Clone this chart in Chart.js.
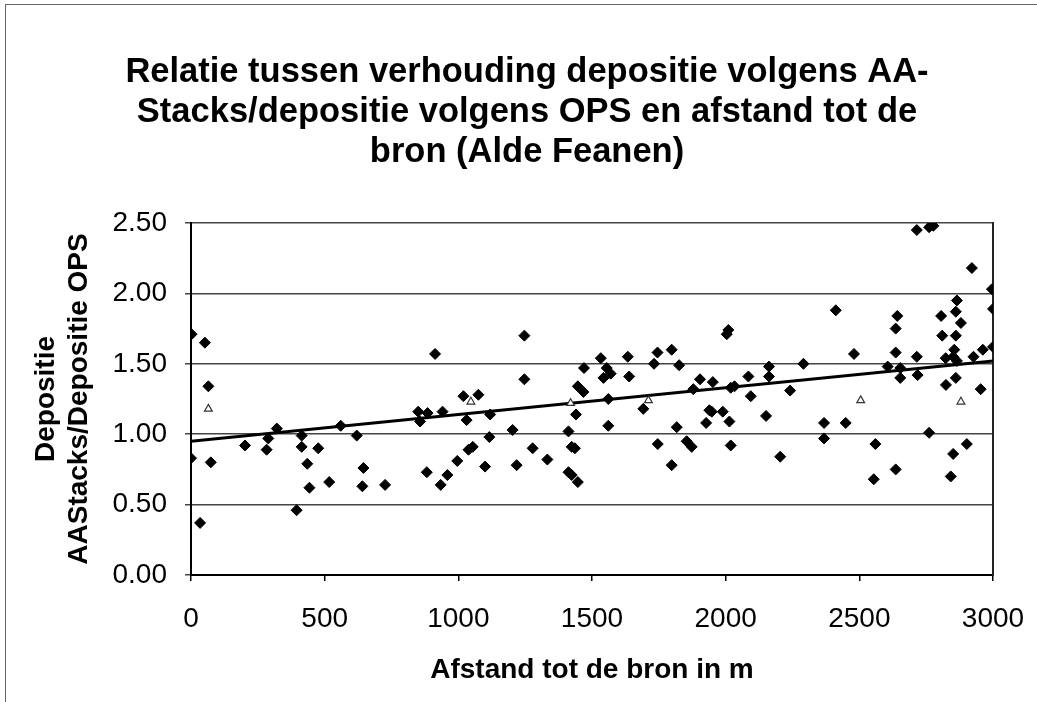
<!DOCTYPE html>
<html>
<head>
<meta charset="utf-8">
<script src="https://cdn.jsdelivr.net/npm/chart.js@4/dist/chart.umd.min.js"></script>
<style>
  html, body { margin: 0; padding: 0; background: #fff; }
  #wrap { position: relative; width: 1037px; height: 702px; }
  #frame { position: absolute; left: 5px; top: 4px; right: -2px; bottom: -2px;
           border-left: 1.5px solid #666; border-top: 1.5px solid #666; pointer-events: none; }
  canvas { position: absolute; left: 0; top: 0; }
</style>
</head>
<body>
<div id="wrap">
  <canvas id="c" width="1037" height="702"></canvas>
  <div id="frame"></div>
</div>
<script>
// Distance to source (m) and ratio AA-Stacks / OPS deposition
const distances = [
  2, 52, 65, 0, 74, 34, 202, 283, 289, 321, 414, 414, 435, 443, 476, 395, 517, 560, 620, 645,
  641, 726, 850, 857, 885, 941, 913, 882, 934, 959,
  996, 1019, 1075, 1031, 1119, 1038, 1054, 1100, 1116, 1203, 1218, 1247, 1247, 1278, 1333, 1440,
  1412, 1424, 1436, 1412, 1424, 1447, 1470, 1447, 1468, 1533, 1555, 1570, 1543, 1561, 1561, 1634,
  1639, 1692, 1732, 1745, 1798, 1826, 1746, 1817, 1798, 1854, 1873, 1904, 1879, 1927, 1939,
  1952, 1948, 1989, 2014, 2004, 2010, 2019, 2033, 2019, 2085, 2094, 2151, 2162, 2162, 2204, 2241,
  2291, 2412, 2368, 2368, 2449, 2480, 2560, 2554, 2606, 2636, 2636, 2636, 2642, 2653, 2653, 2715,
  2718, 2761, 2715, 2761, 2777, 2806, 2810, 2823, 2824, 2851, 2842, 2861, 2861, 2865, 2880, 2855,
  2851, 2865, 2861, 2902, 2927, 2921, 2962, 2954, 2996, 3000, 3000
];
const ratios = [
  1.71, 1.65, 1.34, 0.83, 0.80, 0.37, 0.92, 0.89, 0.97, 1.04, 0.99, 0.91, 0.79, 0.62, 0.90, 0.46, 0.66, 1.06, 0.99, 0.76,
  0.63, 0.64, 1.16, 1.09, 1.15, 1.16, 1.57, 0.73, 0.64, 0.71,
  0.81, 1.27, 1.28, 1.10, 1.14, 0.89, 0.91, 0.77, 0.98, 1.03, 0.78, 1.70, 1.39, 0.90, 0.82, 1.14,
  1.02, 0.91, 0.90, 0.73, 0.71, 0.66, 1.47, 1.34, 1.30, 1.54, 1.47, 1.43, 1.40, 1.25, 1.06, 1.55,
  1.41, 1.18, 1.50, 1.58, 1.60, 1.49, 0.93, 1.05, 0.78, 0.95, 0.91, 1.39, 1.32, 1.08, 1.17,
  1.37, 1.16, 1.16, 1.09, 1.71, 1.74, 1.33, 1.34, 0.92, 1.41, 1.27, 1.13, 1.48, 1.41, 0.84, 1.31,
  1.50, 1.88, 1.08, 0.97, 1.08, 1.57, 0.93, 0.68, 1.48, 0.75, 1.58, 1.75, 1.84, 1.47, 1.40, 1.55,
  1.42, 1.01, 2.45, 2.47, 2.48, 1.84, 1.70, 1.54, 1.35, 0.86, 0.70, 1.70, 1.87, 1.95, 1.79, 1.60,
  1.55, 1.52, 1.40, 0.93, 1.55, 2.18, 1.60, 1.32, 2.03, 1.89, 1.62
];
// faint open-triangle marks
const triDistances = [65, 1047, 1420, 1711, 2505, 2880];
const triRatios = [1.18, 1.23, 1.22, 1.24, 1.24, 1.23];
// linear trend line end points
const trendDistances = [0, 3000];
const trendRatios = [0.95, 1.52];

const xTicks = [0, 500, 1000, 1500, 2000, 2500, 3000];
const yTicks = [0, 0.5, 1.0, 1.5, 2.0, 2.5];

const titleLines = [
  'Relatie tussen verhouding depositie volgens AA-',
  'Stacks/depositie volgens OPS en afstand tot de',
  'bron (Alde Feanen)'
];
const yTitleLines = ['Depositie', 'AAStacks/Depositie OPS'];
const xTitle = 'Afstand tot de bron in m';

const FONT = "'Liberation Sans', Arial, sans-serif";

const mainPts = distances.map((d, i) => ({x: d, y: ratios[i]}));
const triPts = triDistances.map((d, i) => ({x: d, y: triRatios[i]}));
const trendPts = trendDistances.map((d, i) => ({x: d, y: trendRatios[i]}));

new Chart(document.getElementById('c'), {
  type: 'scatter',
  data: {
    datasets: [
      {
        type: 'line',
        data: trendPts,
        borderColor: '#000',
        borderWidth: 3,
        pointRadius: 0,
        fill: false,
        order: 2
      },
      {
        data: triPts,
        pointStyle: 'triangle',
        pointRadius: 4.5,
        backgroundColor: '#fff',
        borderColor: '#333',
        borderWidth: 1.2,
        order: 1
      },
      {
        data: mainPts,
        pointStyle: 'rectRot',
        pointRadius: 5.5,
        backgroundColor: '#000',
        borderColor: '#000',
        borderWidth: 1,
        order: 0
      }
    ]
  },
  options: {
    responsive: false,
    animation: false,
    devicePixelRatio: 1,
    layout: { padding: { left: 27, right: 10, top: 0, bottom: 0 } },
    plugins: {
      legend: { display: false },
      tooltip: { enabled: false },
      title: {
        display: true,
        text: titleLines,
        color: '#000',
        font: { family: FONT, size: 34.5, weight: 'bold', lineHeight: 40 / 34.5 },
        padding: { top: 52, bottom: 51 }
      }
    },
    scales: {
      x: {
        type: 'linear',
        min: 0, max: 3000,
        afterBuildTicks: (s) => { s.ticks = xTicks.map(v => ({value: v})); },
        afterFit: (s) => { s.height = 127; },
        ticks: {
          color: '#000',
          padding: 10,
          font: { family: FONT, size: 28, lineHeight: 2 },
          maxRotation: 0,
          callback: (v) => String(v)
        },
        grid: { drawOnChartArea: false, drawTicks: true, tickLength: 6, color: '#000', lineWidth: 1.5 },
        border: { display: true, color: '#000', width: 2 },
        title: {
          display: true, text: xTitle, color: '#000',
          font: { family: FONT, size: 28, weight: 'bold', lineHeight: 1.2 },
          padding: { top: 0, bottom: 15 }
        }
      },
      y: {
        position: 'left',
        min: 0, max: 2.5,
        afterBuildTicks: (s) => { s.ticks = yTicks.map(v => ({value: v})); },
        afterFit: (s) => { s.width = 164; },
        ticks: {
          color: '#000',
          padding: 18,
          font: { family: FONT, size: 28 },
          callback: (v) => Number(v).toFixed(2)
        },
        grid: { color: '#444', lineWidth: 1.5, tickLength: 6 },
        border: { display: true, color: '#000', width: 2 },
        title: {
          display: true, text: yTitleLines, color: '#000',
          font: { family: FONT, size: 28, weight: 'bold', lineHeight: 33 / 28 },
          padding: { top: 3, bottom: 0 }
        }
      },
      y2: {
        position: 'right',
        min: 0, max: 2.5,
        afterFit: (s) => { s.width = 34; },
        ticks: { display: false },
        grid: { drawOnChartArea: false, drawTicks: false },
        border: { display: true, color: '#222', width: 2 }
      }
    }
  }
});
</script>
</body>
</html>
